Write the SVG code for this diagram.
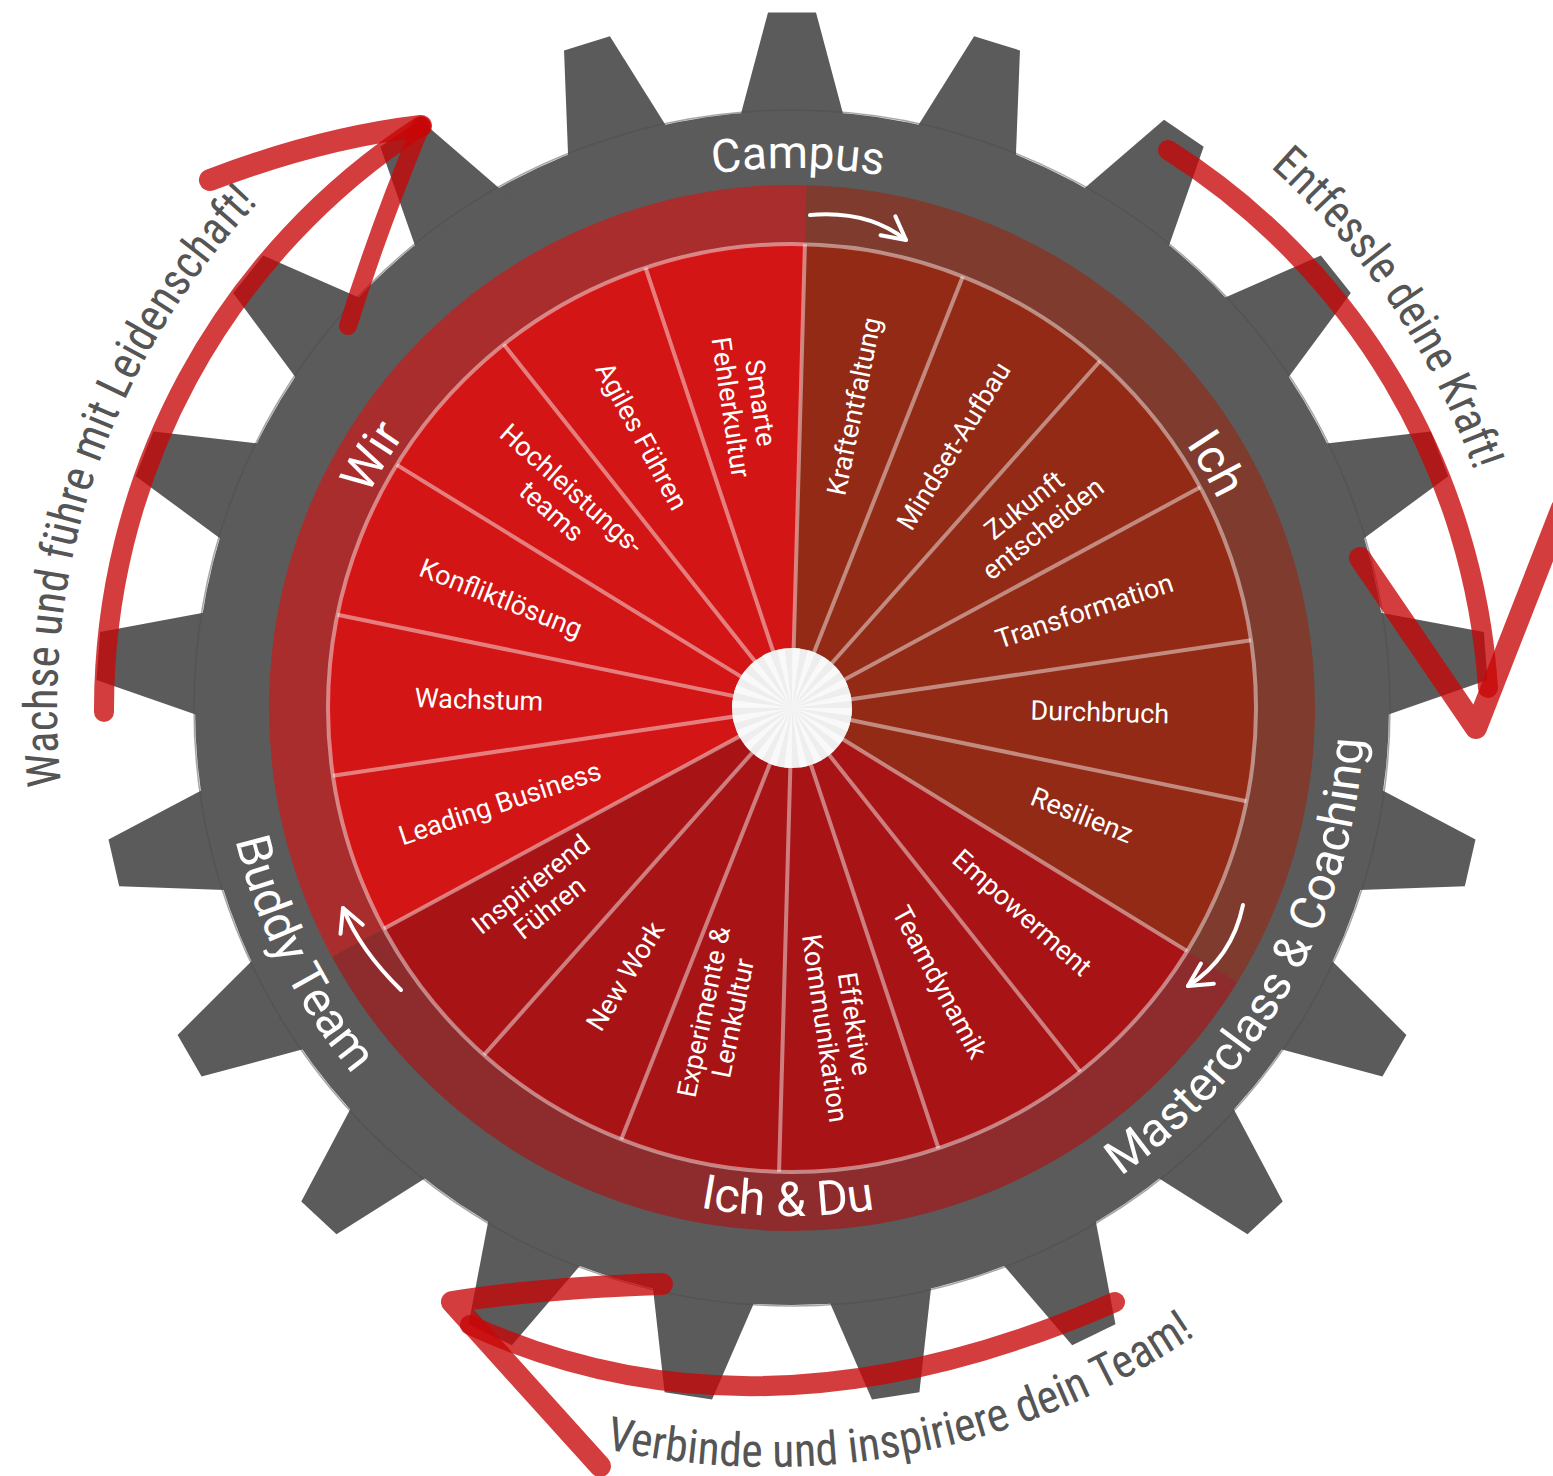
<svg xmlns="http://www.w3.org/2000/svg" width="1553" height="1476" viewBox="0 0 1553 1476">
<style>
.ich{fill:#922a16}
.du{fill:#a81416}
.wir{fill:#d31515}
.ring{fill-opacity:.66}
.lbl{font-family:Roboto,"Liberation Sans",sans-serif;font-size:27px;fill:#fff;text-anchor:middle}
.big{font-family:Roboto,"Liberation Sans",sans-serif;font-size:48px;fill:#fff;text-anchor:middle}
.outer{font-family:"Liberation Sans Narrow","Roboto Condensed","DejaVu Sans Condensed","Liberation Sans",sans-serif;font-size:47px;fill:#555;text-anchor:middle}
.div{stroke:#fff;stroke-opacity:.45;stroke-width:4}
.brush{fill:none;stroke:#c80606;stroke-opacity:.78;stroke-linecap:round;stroke-linejoin:round}
.warrow{fill:none;stroke:#fff;stroke-width:4;stroke-linecap:round;marker-end:url(#wh)}
</style>
<defs>
<marker id="wh" markerUnits="userSpaceOnUse" markerWidth="30" markerHeight="30" viewBox="0 0 30 30" refX="27" refY="15" orient="auto">
<path d="M4 3 L27 15 L4 27" fill="none" stroke="#fff" stroke-width="4" stroke-linecap="round" stroke-linejoin="round"/>
</marker>
<polygon id="tooth" points="735.3,135 768,12.4 816,12.4 848.7,135"/>
<path id="cw540" d="M792 1248 A540 540 0 1 1 792 168 A540 540 0 1 1 792 1248"/>
<path id="cw474" d="M792 1182 A474 474 0 1 1 792 234 A474 474 0 1 1 792 1182"/>
<path id="cw735" d="M792 1443 A735 735 0 1 1 792 -27 A735 735 0 1 1 792 1443"/>
<path id="cw722" d="M792 1430 A722 722 0 1 1 792 -14 A722 722 0 1 1 792 1430"/>
<path id="ccw508" d="M792 200 A508 508 0 1 0 792 1216 A508 508 0 1 0 792 200"/>
<path id="ccw572" d="M792 136 A572 572 0 1 0 792 1280 A572 572 0 1 0 792 136"/>
<path id="ccw752" d="M770 -37 A752 752 0 1 0 770 1467 A752 752 0 1 0 770 -37"/>
</defs>
<rect width="1553" height="1476" fill="#fff"/>

<g id="gear" fill="#5b5b5b">
<circle cx="792" cy="708" r="597"/>
<use href="#tooth"/>
<use href="#tooth" transform="rotate(17.142857 792 708)"/>
<use href="#tooth" transform="rotate(34.285714 792 708)"/>
<use href="#tooth" transform="rotate(51.428571 792 708)"/>
<use href="#tooth" transform="rotate(68.571429 792 708)"/>
<use href="#tooth" transform="rotate(85.714286 792 708)"/>
<use href="#tooth" transform="rotate(102.857143 792 708)"/>
<use href="#tooth" transform="rotate(120 792 708)"/>
<use href="#tooth" transform="rotate(137.142857 792 708)"/>
<use href="#tooth" transform="rotate(154.285714 792 708)"/>
<use href="#tooth" transform="rotate(171.428571 792 708)"/>
<use href="#tooth" transform="rotate(188.571429 792 708)"/>
<use href="#tooth" transform="rotate(205.714286 792 708)"/>
<use href="#tooth" transform="rotate(222.857143 792 708)"/>
<use href="#tooth" transform="rotate(240 792 708)"/>
<use href="#tooth" transform="rotate(257.142857 792 708)"/>
<use href="#tooth" transform="rotate(274.285714 792 708)"/>
<use href="#tooth" transform="rotate(291.428571 792 708)"/>
<use href="#tooth" transform="rotate(308.571429 792 708)"/>
<use href="#tooth" transform="rotate(325.714286 792 708)"/>
<use href="#tooth" transform="rotate(342.857143 792 708)"/>
<circle cx="792" cy="708" r="598" fill="none" stroke="#4e4e4e" stroke-width="1.5" stroke-opacity=".5"/>
</g>

<g id="ring">
<path class="ich ring" d="M792 708 L806.6 185.2 A523 523 0 0 1 1237.45 982.05 Z"/>
<path class="du ring" d="M792 708 L1237.45 982.05 A523 523 0 0 1 331.94 956.75 Z"/>
<path class="wir ring" d="M792 708 L331.94 956.75 A523 523 0 0 1 806.6 185.2 Z"/>
<text id="label-ich" class="big"><textPath href="#cw474" startOffset="66.69%">Ich</textPath></text>
<text id="label-wir" class="big"><textPath href="#cw474" startOffset="33.58%">Wir</textPath></text>
<text id="label-ichdu" class="big"><textPath href="#ccw508" startOffset="49.86%">Ich &amp; Du</textPath></text>
</g>

<g id="seg-kraftentfaltung"><path class="ich" d="M792 708 L804.95 244.18 A464 464 0 0 1 962.81 276.58 Z"/><text class="lbl" transform="translate(853.9 406.3) rotate(-78.4)" y="9.5">Kraftentfaltung</text></g>
<g id="seg-mindset"><path class="ich" d="M792 708 L962.81 276.58 A464 464 0 0 1 1100.06 361.02 Z"/><text class="lbl" transform="translate(953.4 445.7) rotate(-58.4)" y="9.5">Mindset-Aufbau</text></g>
<g id="seg-zukunft"><path class="ich" d="M792 708 L1100.06 361.02 A464 464 0 0 1 1200.16 487.31 Z"/><text class="lbl" transform="translate(1033.4 516.7) rotate(-38.4)"><tspan x="0" y="-5.5">Zukunft</tspan><tspan x="0" y="24.5">entscheiden</tspan></text></g>
<g id="seg-transformation"><path class="ich" d="M792 708 L1200.16 487.31 A464 464 0 0 1 1251.02 640.22 Z"/><text class="lbl" transform="translate(1084.3 610.8) rotate(-18.4)" y="9.5">Transformation</text></g>
<g id="seg-durchbruch"><path class="ich" d="M792 708 L1251.02 640.22 A464 464 0 0 1 1246.53 801.3 Z"/><text class="lbl" transform="translate(1099.9 712) rotate(1.6)" y="9.5">Durchbruch</text></g>
<g id="seg-resilienz"><path class="ich" d="M792 708 L1246.53 801.3 A464 464 0 0 1 1187.2 951.13 Z"/><text class="lbl" transform="translate(1082 815) rotate(21.6)" y="9.5">Resilienz</text></g>
<g id="seg-empowerment"><path class="du" d="M792 708 L1187.2 951.13 A464 464 0 0 1 1080.21 1071.63 Z"/><text class="lbl" transform="translate(1022.3 912.5) rotate(41.6)" y="9.5">Empowerment</text></g>
<g id="seg-teamdynamik"><path class="du" d="M792 708 L1080.21 1071.63 A464 464 0 0 1 938.46 1148.28 Z"/><text class="lbl" transform="translate(940 982) rotate(61.6)" y="9.5">Teamdynamik</text></g>
<g id="seg-kommunikation"><path class="du" d="M792 708 L938.46 1148.28 A464 464 0 0 1 779.05 1171.82 Z"/><text class="lbl" transform="translate(840 1026) rotate(81.6)"><tspan x="0" y="-5.5">Effektive</tspan><tspan x="0" y="24.5">Kommunikation</tspan></text></g>
<g id="seg-experimente"><path class="du" d="M792 708 L779.05 1171.82 A464 464 0 0 1 621.19 1139.42 Z"/><text class="lbl" transform="translate(718 1015) rotate(-78.4)"><tspan x="0" y="-5.5">Experimente &amp;</tspan><tspan x="0" y="24.5">Lernkultur</tspan></text></g>
<g id="seg-newwork"><path class="du" d="M792 708 L621.19 1139.42 A464 464 0 0 1 483.94 1054.98 Z"/><text class="lbl" transform="translate(625 976) rotate(-58.4)" y="9.5">New Work</text></g>
<g id="seg-inspirierend"><path class="du" d="M792 708 L483.94 1054.98 A464 464 0 0 1 383.84 928.69 Z"/><text class="lbl" transform="translate(540 896) rotate(-38.4)"><tspan x="0" y="-5.5">Inspirierend</tspan><tspan x="0" y="24.5">Führen</tspan></text></g>
<g id="seg-leading"><path class="wir" d="M792 708 L383.84 928.69 A464 464 0 0 1 332.98 775.78 Z"/><text class="lbl" transform="translate(499.7 803) rotate(-18.4)" y="9.5">Leading Business</text></g>
<g id="seg-wachstum"><path class="wir" d="M792 708 L332.98 775.78 A464 464 0 0 1 337.47 614.7 Z"/><text class="lbl" transform="translate(479 699.4) rotate(1.6)" y="9.5">Wachstum</text></g>
<g id="seg-konflikt"><path class="wir" d="M792 708 L337.47 614.7 A464 464 0 0 1 396.8 464.87 Z"/><text class="lbl" transform="translate(501 598) rotate(21.6)" y="9.5">Konfliktlösung</text></g>
<g id="seg-hochleistung"><path class="wir" d="M792 708 L396.8 464.87 A464 464 0 0 1 503.79 344.37 Z"/><text class="lbl" transform="translate(561.7 500) rotate(41.6)"><tspan x="0" y="-5.5">Hochleistungs-</tspan><tspan x="0" y="24.5">teams</tspan></text></g>
<g id="seg-agiles"><path class="wir" d="M792 708 L503.79 344.37 A464 464 0 0 1 645.54 267.72 Z"/><text class="lbl" transform="translate(642 436) rotate(61.6)" y="9.5">Agiles Führen</text></g>
<g id="seg-smarte"><path class="wir" d="M792 708 L645.54 267.72 A464 464 0 0 1 804.95 244.18 Z"/><text class="lbl" transform="translate(746 405) rotate(81.6)"><tspan x="0" y="-5.5">Smarte</tspan><tspan x="0" y="24.5">Fehlerkultur</tspan></text></g>

<g id="dividers" class="div">
<circle cx="792" cy="708" r="464" fill="none"/>
<line x1="792" y1="708" x2="804.95" y2="244.18"/>
<line x1="792" y1="708" x2="962.81" y2="276.58"/>
<line x1="792" y1="708" x2="1100.06" y2="361.02"/>
<line x1="792" y1="708" x2="1200.16" y2="487.31"/>
<line x1="792" y1="708" x2="1251.02" y2="640.22"/>
<line x1="792" y1="708" x2="1246.53" y2="801.3"/>
<line x1="792" y1="708" x2="1187.2" y2="951.13"/>
<line x1="792" y1="708" x2="1080.21" y2="1071.63"/>
<line x1="792" y1="708" x2="938.46" y2="1148.28"/>
<line x1="792" y1="708" x2="779.05" y2="1171.82"/>
<line x1="792" y1="708" x2="621.19" y2="1139.42"/>
<line x1="792" y1="708" x2="483.94" y2="1054.98"/>
<line x1="792" y1="708" x2="383.84" y2="928.69"/>
<line x1="792" y1="708" x2="332.98" y2="775.78"/>
<line x1="792" y1="708" x2="337.47" y2="614.7"/>
<line x1="792" y1="708" x2="396.8" y2="464.87"/>
<line x1="792" y1="708" x2="503.79" y2="344.37"/>
<line x1="792" y1="708" x2="645.54" y2="267.72"/>
</g>

<g id="hub">
<circle cx="792" cy="708" r="60" fill="#eeeeee"/>
<circle cx="792" cy="708" r="30" fill="none" stroke="#fbfbfb" stroke-width="60" stroke-dasharray="3.927 3.927" stroke-opacity=".8"/>
</g>

<g id="gear-labels">
<text id="label-campus" class="big" style="font-size:46px"><textPath href="#cw540" startOffset="50.17%">Campus</textPath></text>
<text id="label-masterclass" class="big"><textPath href="#ccw572" startOffset="66.94%">Masterclass &amp; Coaching</textPath></text>
<text id="label-buddy" class="big"><textPath href="#ccw572" startOffset="32.39%">Buddy Team</textPath></text>
</g>

<g id="connectors">
<path class="warrow" d="M810 215 Q868 210 906 240"/>
<path class="warrow" d="M1243 905 Q1232 958 1188 986"/>
<path class="warrow" d="M401 990 Q360 950 343 908"/>
<path class="brush" stroke-width="20" d="M104 712 A695 695 0 0 1 421 126"/>
<path class="brush" stroke-width="22" d="M421 126 Q320 138 210 180"/>
<path class="brush" stroke-width="18" d="M421 126 Q378 230 348 326"/>
<path class="brush" stroke-width="20" d="M1168 150 A690 690 0 0 1 1488 688"/>
<path class="brush" stroke-width="22" d="M1360 558 L1476 728 L1562 508"/>
<path class="brush" stroke-width="22" d="M662 1284 Q540 1288 452 1302 L600 1466"/>
<path class="brush" stroke-width="20" d="M470 1325 Q760 1458 1115 1302"/>
</g>

<g id="slogans">
<text id="slogan-wachse" class="outer"><textPath href="#cw735" startOffset="30.19%" textLength="635" lengthAdjust="spacingAndGlyphs">Wachse und führe mit Leidenschaft!</textPath></text>
<text id="slogan-entfessle" class="outer"><textPath href="#cw722" startOffset="65.6%" textLength="370" lengthAdjust="spacingAndGlyphs">Entfessle deine Kraft!</textPath></text>
<text id="slogan-verbinde" class="outer"><textPath href="#ccw752" startOffset="53.03%" textLength="619" lengthAdjust="spacingAndGlyphs">Verbinde und inspiriere dein Team!</textPath></text>
</g>
</svg>
